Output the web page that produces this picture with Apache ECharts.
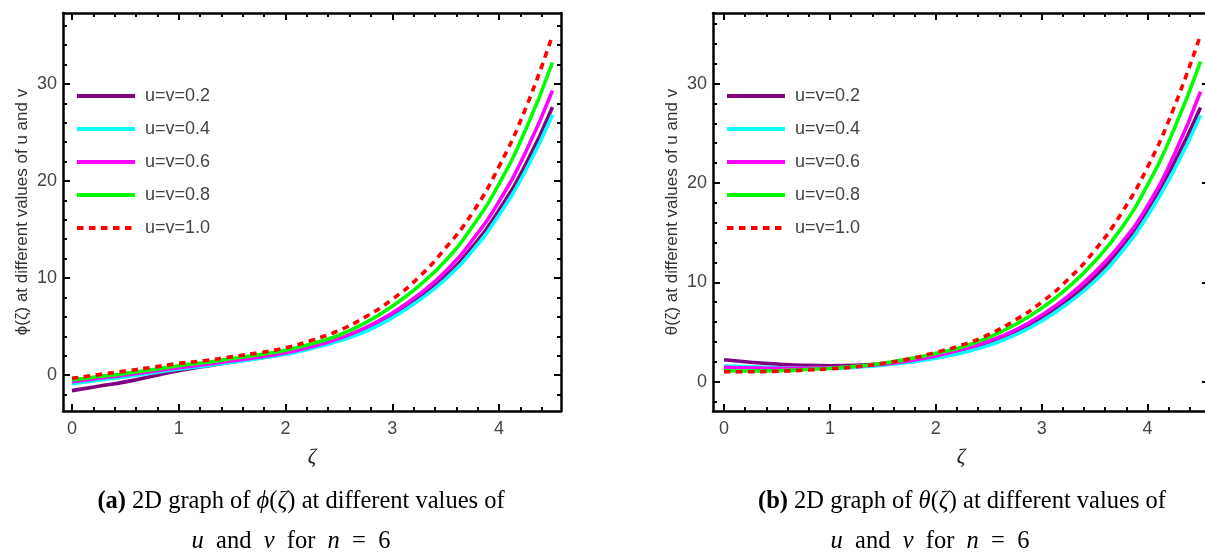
<!DOCTYPE html>
<html>
<head>
<meta charset="utf-8">
<script src="https://cdn.jsdelivr.net/npm/echarts@6/dist/echarts.min.js"></script>
<style>
  html, body { margin: 0; padding: 0; background: #fff; }
  #chart { width: 1205px; height: 558px; }
</style>
</head>
<body>
<div id="chart"></div>
<script>
var zeta = [0, 0.25, 0.5, 0.75, 1, 1.25, 1.5, 1.75, 2, 2.25, 2.5, 2.75, 3, 3.25, 3.5, 3.75, 4, 4.25, 4.5];

// (a) phi(zeta)
var phiU02 = [-1.6, -1.15, -0.7, -0.12, 0.45, 0.9, 1.35, 1.75, 2.2, 2.85, 3.62, 4.7, 6.1, 7.9, 10.2, 13.2, 17.0, 21.7, 27.6];
var phiU04 = [-0.9, -0.52, -0.17, 0.22, 0.6, 0.95, 1.33, 1.72, 2.15, 2.75, 3.5, 4.5, 5.9, 7.7, 9.9, 12.8, 16.5, 21.1, 26.8];
var phiU06 = [-0.68, -0.33, 0.0, 0.38, 0.75, 1.1, 1.47, 1.85, 2.3, 2.95, 3.76, 4.9, 6.4, 8.3, 10.7, 13.9, 17.9, 23.0, 29.3];
var phiU08 = [-0.5, -0.15, 0.17, 0.55, 0.96, 1.3, 1.7, 2.1, 2.56, 3.25, 4.1, 5.4, 7.1, 9.2, 11.8, 15.3, 19.7, 25.3, 32.2];
var phiU10 = [-0.34, 0.05, 0.41, 0.8, 1.2, 1.5, 1.9, 2.3, 2.8, 3.6, 4.6, 6.0, 7.8, 10.1, 13.1, 16.7, 21.5, 27.5, 35.0];

// (b) theta(zeta)
var thetaU02 = [2.2, 1.95, 1.78, 1.65, 1.6, 1.65, 1.8, 2.1, 2.5, 3.1, 3.9, 5.0, 6.4, 8.2, 10.5, 13.5, 17.3, 22.0, 27.6];
var thetaU04 = [1.58, 1.5, 1.42, 1.36, 1.35, 1.45, 1.65, 1.95, 2.35, 2.9, 3.65, 4.7, 6.1, 7.9, 10.1, 13.0, 16.7, 21.3, 26.8];
var thetaU06 = [1.45, 1.38, 1.35, 1.35, 1.4, 1.55, 1.75, 2.1, 2.6, 3.25, 4.1, 5.2, 6.7, 8.6, 11.0, 13.9, 17.7, 22.8, 29.2];
var thetaU08 = [1.1, 1.08, 1.1, 1.2, 1.35, 1.55, 1.85, 2.3, 2.85, 3.5, 4.45, 5.75, 7.4, 9.5, 12.1, 15.4, 19.8, 25.4, 32.2];
var thetaU10 = [1.0, 1.0, 1.05, 1.15, 1.3, 1.5, 1.85, 2.3, 2.95, 3.7, 4.75, 6.2, 8.0, 10.3, 13.2, 16.9, 21.6, 27.6, 34.9];

var names = ['u=v=0.2', 'u=v=0.4', 'u=v=0.6', 'u=v=0.8', 'u=v=1.0'];
var colors = ['#800080', '#00ffff', '#ff00ff', '#00ff00', '#ff0000'];

// tick labels
var xMajor = [0, 1, 2, 3, 4];
var xMinor = [0.2, 0.4, 0.6, 0.8, 1.2, 1.4, 1.6, 1.8, 2.2, 2.4, 2.6, 2.8, 3.2, 3.4, 3.6, 3.8, 4.2, 4.4];
var yMajor = [0, 10, 20, 30];
var yMinor = [-2, 2, 4, 6, 8, 12, 14, 16, 18, 22, 24, 26, 28, 32, 34, 36];

var sans = '"Liberation Sans", Arial, sans-serif';
var serif = '"Liberation Serif", "Times New Roman", serif';

var panels = [
  { grid: { left: 63, top: 13, width: 498, height: 398, outerBoundsMode: 'none' }, xr: [-0.084, 4.58], yr: [-3.7, 37.3],
    yName: 'ϕ(ζ) at different values of u and v', data: [phiU02, phiU04, phiU06, phiU08, phiU10], legendLeft: 75 },
  { grid: { left: 713, top: 13, width: 496, height: 398, outerBoundsMode: 'none' }, xr: [-0.104, 4.58], yr: [-2.95, 37.1],
    yName: 'θ(ζ) at different values of u and v', data: [thetaU02, thetaU04, thetaU06, thetaU08, thetaU10], legendLeft: 725 }
];

var grids = [], xAxes = [], yAxes = [], series = [], legends = [];

function tickAxis(g, pos, range, values, len, showLine) {
  return {
    type: 'value', gridIndex: g, position: pos, min: range[0], max: range[1],
    axisLine: { show: showLine, onZero: false, lineStyle: { color: '#000', width: 2.5 } },
    axisTick: { show: true, inside: true, length: len, customValues: values, lineStyle: { color: '#000', width: 2 } },
    axisLabel: { show: false },
    splitLine: { show: false }
  };
}

panels.forEach(function(p, g) {
  grids.push(p.grid);

  // main x axis (bottom) with labels
  var xb = tickAxis(g, 'bottom', p.xr, xMajor, 7, true);
  xb.axisLabel = { show: true, customValues: xMajor, margin: 9, color: '#444', fontSize: 18, fontFamily: sans };
  xb.name = 'ζ';
  xb.nameLocation = 'middle';
  xb.nameGap = 36;
  xb.nameTextStyle = { fontFamily: serif, fontStyle: 'italic', fontSize: 21, color: '#222' };
  var xIdx = xAxes.length;
  xAxes.push(xb);
  xAxes.push(tickAxis(g, 'bottom', p.xr, xMinor, 4, false));
  xAxes.push(tickAxis(g, 'top', p.xr, xMajor, 7, true));
  xAxes.push(tickAxis(g, 'top', p.xr, xMinor, 4, false));

  var yl = tickAxis(g, 'left', p.yr, yMajor, 7, true);
  yl.axisLabel = { show: true, customValues: yMajor, margin: 6, color: '#444', fontSize: 18, fontFamily: sans };
  yl.name = p.yName;
  yl.nameLocation = 'middle';
  yl.nameRotate = 90;
  yl.nameGap = 32;
  yl.nameTextStyle = { fontFamily: sans, fontSize: 17, color: '#333' };
  var yIdx = yAxes.length;
  yAxes.push(yl);
  yAxes.push(tickAxis(g, 'left', p.yr, yMinor, 4, false));
  yAxes.push(tickAxis(g, 'right', p.yr, yMajor, 7, true));
  yAxes.push(tickAxis(g, 'right', p.yr, yMinor, 4, false));

  p.data.forEach(function(vals, k) {
    series.push({
      type: 'line', name: names[k], xAxisIndex: xIdx, yAxisIndex: yIdx,
      data: zeta.map(function(z, i) { return [z, vals[i]]; }),
      symbol: 'none', smooth: true, clip: true,
      lineStyle: { color: colors[k], width: 3.6, type: k === 4 ? [6.5, 5.5] : 'solid' },
      itemStyle: { color: colors[k] }
    });
  });

  legends.push({
    orient: 'vertical', left: p.legendLeft, top: 87, padding: 0,
    itemWidth: 58, itemHeight: 14, itemGap: 15,
    selectedMode: false,
    data: names,
    itemStyle: { color: 'rgba(0,0,0,0)', borderWidth: 0, opacity: 0 },
    lineStyle: { width: 4 },
    textStyle: { color: '#444', fontSize: 18, fontFamily: sans, padding: [0, 0, 0, 5] }
  });
});

var capRich = {
  b: { fontWeight: 'bold', fontFamily: serif, fontSize: 24.5, fill: '#000', color: '#000' },
  i: { fontStyle: 'italic', fontFamily: serif, fontSize: 24.5, fill: '#000', color: '#000' }
};

function caption(x, y, text) {
  return {
    type: 'text', x: x, y: y,
    style: {
      text: text, rich: capRich, fill: '#000',
      font: '24.5px ' + serif,
      align: 'center', verticalAlign: 'middle'
    }
  };
}

var chart = echarts.init(document.getElementById('chart'), null, { renderer: 'canvas' });
chart.setOption({
  animation: false,
  backgroundColor: '#fff',
  grid: grids,
  xAxis: xAxes,
  yAxis: yAxes,
  legend: legends,
  series: series,
  graphic: [
    caption(301, 502, '{b|(a)} 2D graph of {i|ϕ}({i|ζ}) at different values of'),
    caption(291, 542, '{i|u}  and  {i|v}  for  {i|n}  =  6'),
    caption(962, 502, '{b|(b)} 2D graph of {i|θ}({i|ζ}) at different values of'),
    caption(930, 542, '{i|u}  and  {i|v}  for  {i|n}  =  6')
  ]
});
</script>
</body>
</html>
